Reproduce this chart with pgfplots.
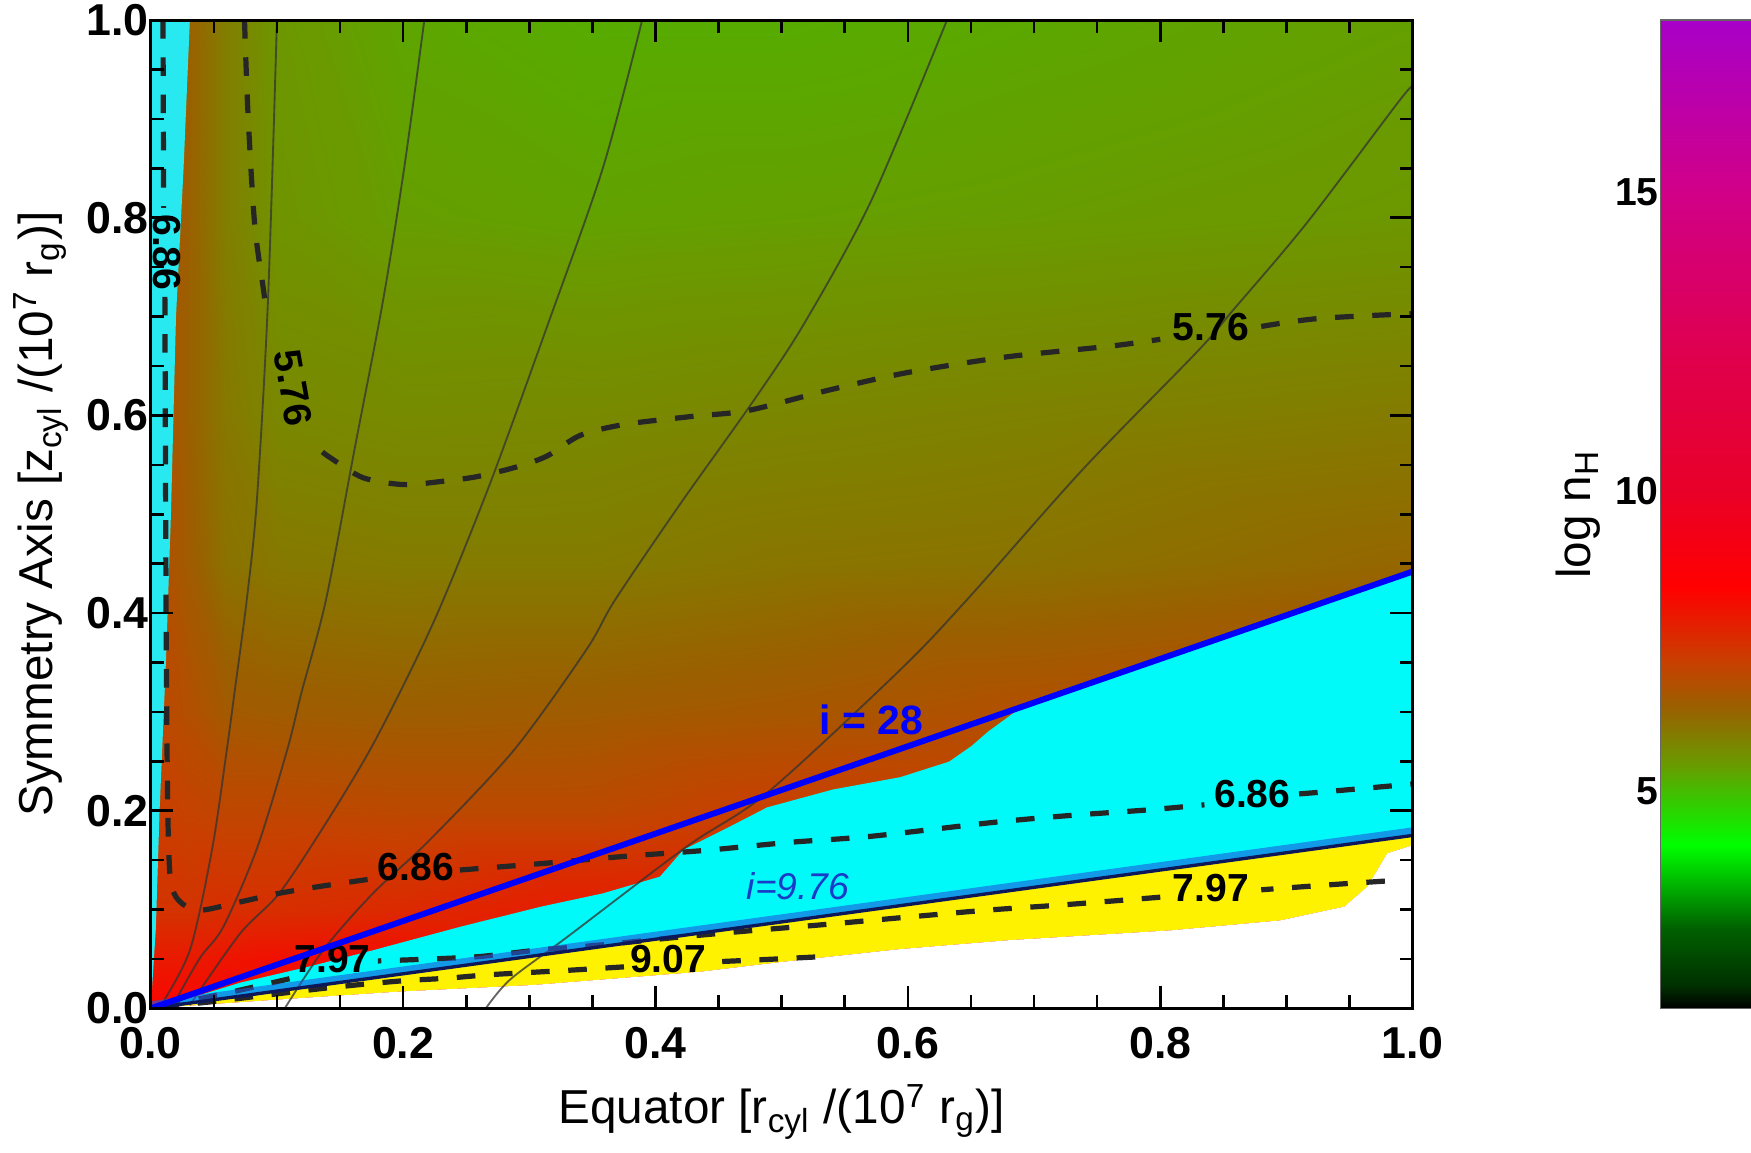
\documentclass[border=0pt]{standalone}
\usepackage{fontspec}
\setmainfont{Liberation Sans}
\usepackage{pgfplots}
\pgfplotsset{compat=1.18}

\definecolor{navyline}{RGB}{12,24,90}
\definecolor{glowblue}{RGB}{30,90,220}
\definecolor{labblue}{RGB}{25,60,200}
\definecolor{cyanfill}{RGB}{0,250,250}
\definecolor{stripcyan}{RGB}{40,232,240}

\pgfplotsset{
  cont/.style={black!85, line width=1.4pt, dash pattern=on 5pt off 5pt, smooth},
  stream/.style={black!80, line width=0.5pt, opacity=0.75, smooth},
}
\tikzset{clab/.style={font=\bfseries\fontsize{10.5}{10.5}\selectfont, inner sep=0pt}}

\begin{document}
\begin{tikzpicture}
\begin{axis}[
  scale only axis, width=339pt, height=265.5pt,
  xmin=0, xmax=1, ymin=0, ymax=1,
  enlargelimits=false,
  axis on top,
  axis line style={line width=0.8pt},
  tick align=inside,
  xtick={0,0.2,...,1}, ytick={0,0.2,...,1},
  minor x tick num=3, minor y tick num=3,
  major tick length=6pt, minor tick length=3.5pt,
  every tick/.style={black, line width=0.7pt},
  tick label style={font=\bfseries\fontsize{12}{12}\selectfont},
  /pgf/number format/assume math mode=true,
  xticklabel style={yshift=-1.5pt, /pgf/number format/.cd, fixed, fixed zerofill, precision=1},
  yticklabel style={xshift=3pt, /pgf/number format/.cd, fixed, fixed zerofill, precision=1},
  label style={font=\fontsize{12.8}{14}\selectfont},
  ylabel shift=-2pt,
  xlabel={Equator [r\textsubscript{cyl} /(10\textsuperscript{7} r\textsubscript{g})]},
  ylabel={Symmetry Axis [z\textsubscript{cyl} /(10\textsuperscript{7} r\textsubscript{g})]},
  colormap={nh}{rgb255(1.37)=(0,0,0); rgb255(1.75)=(0,48,0); rgb255(2.7)=(0,96,0);
    rgb255(4.1)=(0,255,0); rgb255(4.95)=(64,192,0); rgb255(5.45)=(106,154,0);
    rgb255(6.4)=(154,96,0); rgb255(7.15)=(200,64,0); rgb255(8.4)=(255,0,0);
    rgb255(10.1)=(232,0,42); rgb255(12.1)=(224,0,74); rgb255(15.1)=(208,0,138);
    rgb255(17.87)=(168,0,200)},
  point meta min=1.37, point meta max=17.87,
  colorbar,
  colorbar/width=27pt,
  colorbar style={
    at={(parent axis.north east)}, anchor=north west, xshift=58.1pt,
    ytick={5,10,15},
    yticklabel pos=left,
    major tick length=0pt,
    /pgf/number format/assume math mode=true,
    yticklabel style={xshift=3pt},
    tick label style={font=\bfseries\fontsize{10.5}{10.5}\selectfont},
    ylabel={log n\textsubscript{H}},
    ylabel shift=-3pt,
    ylabel style={font=\fontsize{12.8}{14}\selectfont},
    axis line style={draw=black!60, line width=0.4pt},
  },
]

% density field, values
\addplot[surf, shader=interp, mesh/cols=9, point meta=explicit] table[meta=c] {
x y c
0 0 8.3
0.03 0 8.3
0.06 0 8.3
0.1 0 8.2
0.2 0 8.2
0.35 0 8.2
0.5 0 8.2
0.7 0 8.2
1.0 0 8.2
0 0.05 7.9
0.03 0.05 7.9
0.06 0.05 8.0
0.1 0.05 8.1
0.2 0.05 8.2
0.35 0.05 8.2
0.5 0.05 8.2
0.7 0.05 8.2
1.0 0.05 8.2
0 0.1 7.4
0.03 0.1 7.4
0.06 0.1 7.5
0.1 0.1 7.5
0.2 0.1 7.6
0.35 0.1 7.9
0.5 0.1 8.0
0.7 0.1 8.0
1.0 0.1 8.0
0 0.2 7.2
0.03 0.2 7.1
0.06 0.2 7.0
0.1 0.2 7.0
0.2 0.2 6.95
0.35 0.2 6.95
0.5 0.2 7.2
0.7 0.2 7.3
1.0 0.2 7.3
0 0.3 7.0
0.03 0.3 6.8
0.06 0.3 6.55
0.1 0.3 6.5
0.2 0.3 6.45
0.35 0.3 6.5
0.5 0.3 6.6
0.7 0.3 6.8
1.0 0.3 7.0
0 0.45 6.9
0.03 0.45 6.5
0.06 0.45 6.1
0.1 0.45 6.0
0.2 0.45 5.95
0.35 0.45 5.95
0.5 0.45 6.05
0.7 0.45 6.1
1.0 0.45 6.3
0 0.6 6.9
0.03 0.6 6.4
0.06 0.6 6.0
0.1 0.6 5.75
0.2 0.6 5.7
0.35 0.6 5.72
0.5 0.6 5.78
0.7 0.6 5.85
1.0 0.6 5.95
0 0.8 6.9
0.03 0.8 6.4
0.06 0.8 5.9
0.1 0.8 5.55
0.2 0.8 5.4
0.35 0.8 5.35
0.5 0.8 5.38
0.7 0.8 5.42
1.0 0.8 5.5
0 1.0 6.9
0.03 1.0 6.4
0.06 1.0 5.9
0.1 1.0 5.5
0.2 1.0 5.3
0.35 1.0 5.22
0.5 1.0 5.22
0.7 1.0 5.28
1.0 1.0 5.38
};

% cyan strip along the axis
\addplot[fill=stripcyan, draw=none] coordinates {
  (0,1) (0.031,1) (0.026,0.85) (0.02,0.7) (0.016,0.5) (0.012,0.35)
  (0.007,0.2) (0.004,0.08) (0,0)} -- cycle;
% cyan wedge below the i=28 line
\addplot[fill=cyanfill, draw=none] coordinates {
  (0,0) (0.0221,0.0068) (0.0708,0.026) (0.1239,0.0418) (0.1761,0.0588)
  (0.2451,0.0825) (0.3088,0.1028) (0.3584,0.1164) (0.4035,0.1333)
  (0.4221,0.1605) (0.4558,0.1819) (0.4885,0.2034) (0.5407,0.2215)
  (0.5938,0.2339) (0.6327,0.2497) (0.6504,0.2655) (0.6637,0.2802)
  (0.6903,0.305) (1,0.442) (1,0.175)} -- cycle;
% yellow wedge
\addplot[fill=yellow, draw=none] coordinates {
  (0,0) (1,0.175) (1,0.165) (0.98,0.157) (0.964,0.123) (0.946,0.103)
  (0.895,0.089) (0.809,0.079) (0.68,0.069) (0.594,0.06) (0.5,0.047)
  (0.435,0.037) (0.3035,0.0237) (0.197,0.017) (0.1018,0.009)} -- cycle;
% white below
\addplot[fill=white, draw=none] coordinates {
  (0,0) (0.1018,0.009) (0.197,0.017) (0.3035,0.0237) (0.435,0.037)
  (0.5,0.047) (0.594,0.06) (0.68,0.069) (0.809,0.079) (0.895,0.089)
  (0.946,0.103) (0.964,0.123) (0.98,0.157) (1,0.165) (1,0)} -- cycle;

% streamlines
\addplot[stream] coordinates {(0.1,1.0) (0.0929,0.7164) (0.0841,0.5141) (0.0761,0.4136)
  (0.0664,0.3198) (0.0602,0.261) (0.0487,0.1616) (0.031,0.0588) (0.0071,0.0011)};
\addplot[stream] coordinates {(0.2168,1.0) (0.2009,0.8508) (0.1841,0.7164) (0.1619,0.5684)
  (0.1389,0.4136) (0.1195,0.3198) (0.108,0.261) (0.0841,0.1616) (0.0575,0.0825)
  (0.0389,0.0508) (0.0177,0.0034)};
\addplot[stream] coordinates {(0.3894,1.0) (0.3584,0.8508) (0.3142,0.6904) (0.2699,0.5345)
  (0.2319,0.4136) (0.2062,0.3424) (0.1735,0.261) (0.1372,0.1842) (0.1018,0.1164)
  (0.0708,0.0757) (0.031,0.0034)};
\addplot[stream] coordinates {(0.631,1.0) (0.5708,0.8169) (0.5177,0.6927) (0.477,0.6136)
  (0.4204,0.5119) (0.3681,0.4136) (0.3451,0.3627) (0.2876,0.261) (0.2212,0.1706)
  (0.1761,0.1164) (0.1372,0.0599) (0.1062,0.0)};
\addplot[stream] coordinates {(1.0,0.9322) (0.9903,0.9198) (0.9159,0.7944) (0.8575,0.7062)
  (0.8292,0.6644) (0.7389,0.5458) (0.6469,0.4136) (0.5938,0.3424) (0.4885,0.2181)
  (0.4248,0.1638) (0.3301,0.0723) (0.285,0.0294) (0.2655,0.0)};

% contour 5.76
\addplot[cont] coordinates {(0.0743,1.0) (0.077,0.907) (0.0823,0.794) (0.0894,0.7266) (0.092,0.70)};
\addplot[cont] coordinates {(0.136,0.563) (0.1425,0.557) (0.1681,0.537) (0.2,0.530) (0.2292,0.533)
  (0.2584,0.538) (0.2903,0.548) (0.3142,0.559) (0.3407,0.580) (0.3761,0.591)
  (0.4292,0.599) (0.4735,0.605) (0.5354,0.625) (0.5982,0.643) (0.677,0.659)
  (0.760,0.670) (0.80,0.677)};
\addplot[cont] coordinates {(0.88,0.690) (0.925,0.698) (1.0,0.703)};
% contour 6.86
\addplot[cont] coordinates {(0.0097,1.0) (0.0102,0.81)};
\addplot[cont] coordinates {(0.0112,0.72) (0.0124,0.342) (0.0142,0.162) (0.0186,0.116)
  (0.0363,0.0994) (0.0681,0.107) (0.1,0.116) (0.1319,0.123) (0.175,0.131)};
\addplot[cont] coordinates {(0.245,0.140) (0.3142,0.147) (0.377,0.154) (0.4407,0.160)
  (0.5062,0.168) (0.5699,0.174) (0.6664,0.188) (0.7265,0.195) (0.792,0.201) (0.835,0.206)};
\addplot[cont] coordinates {(0.91,0.217) (0.929,0.219) (1.0,0.227)};
% contour 7.97
\addplot[cont] coordinates {(0.978,0.1288) (0.938,0.1254) (0.88,0.12)};
\addplot[cont] coordinates {(0.80,0.1125) (0.7265,0.1051) (0.6628,0.0994) (0.6027,0.0927)
  (0.5327,0.0847) (0.4699,0.078) (0.4115,0.0712) (0.3584,0.0644) (0.3053,0.0588)
  (0.2558,0.052) (0.18,0.048)};
\addplot[cont] coordinates {(0.11,0.03) (0.0575,0.0147) (0.0133,0.0034)};
% contour 9.07
\addplot[cont] coordinates {(0.5265,0.052) (0.4912,0.0497) (0.445,0.047)};
\addplot[cont] coordinates {(0.375,0.042) (0.3292,0.0384) (0.2982,0.0362) (0.2664,0.0339)
  (0.2345,0.0305) (0.2027,0.0282) (0.1726,0.0249) (0.1372,0.0203) (0.0929,0.0136)
  (0.0487,0.0068) (0.0133,0.0023)};

\node[clab] at (axis cs:0.84,0.689) {5.76};
\node[clab, rotate=-80] at (axis cs:0.113,0.628) {5.76};
\node[clab, rotate=-90] at (axis cs:0.013,0.765) {6.86};
\node[clab] at (axis cs:0.21,0.1435) {6.86};
\node[clab] at (axis cs:0.873,0.217) {6.86};
\node[clab] at (axis cs:0.84,0.122) {7.97};
\node[clab] at (axis cs:0.144,0.05) {7.97};
\node[clab] at (axis cs:0.41,0.0497) {9.07};

% i = 9.76 line
\addplot[glowblue, line width=2.2pt, opacity=0.6] coordinates {(0,0.003) (1,0.179)};
\addplot[navyline, line width=0.9pt] coordinates {(0,0) (1,0.175)};
\node[font=\itshape\fontsize{10}{10}\selectfont, text=labblue] at (axis cs:0.513,0.124) {i=9.76};

% i = 28 line
\addplot[blue, line width=1.6pt] coordinates {(0,0) (1,0.442)};
\node[font=\bfseries\fontsize{11}{11}\selectfont, text=blue] at (axis cs:0.571,0.292) {i = 28};
\end{axis}
\pgfresetboundingbox
\path (-40.5pt,-38.7pt) rectangle (429.9pt,270.9pt);
\end{tikzpicture}
\end{document}
